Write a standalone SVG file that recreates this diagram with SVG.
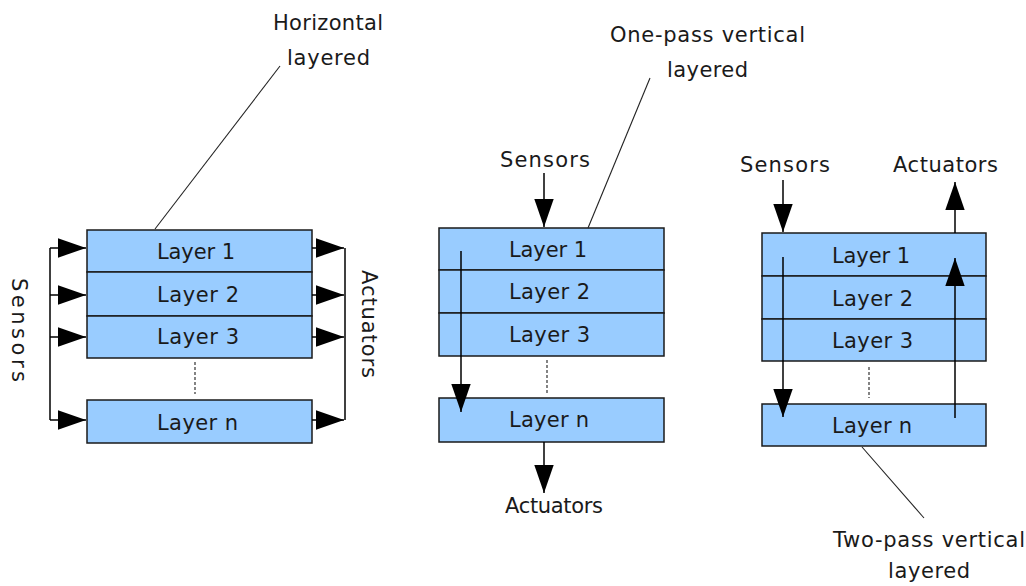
<svg xmlns="http://www.w3.org/2000/svg" width="1026" height="586" viewBox="0 0 1026 586">
<style>
text{font-family:"DejaVu Sans","Liberation Sans",Arial,sans-serif;font-size:21px;fill:#1a1a1a}
.box{fill:#99ccff;stroke:#1a1a1a;stroke-width:1.5}
.ln{stroke:#000;stroke-width:1.5;fill:none}
.dash{stroke:#333;stroke-width:1.2;stroke-dasharray:3,2;fill:none}
.lead{stroke:#222;stroke-width:1.1;fill:none}
</style>
<defs>
<marker id="ah" markerUnits="userSpaceOnUse" markerWidth="28" markerHeight="20" viewBox="0 0 26 18" refX="26" refY="9" orient="auto">
<path d="M0,0 L26,9 L0,18 z" fill="#000"/>
</marker>
</defs>
<rect width="1026" height="586" fill="#fff"/>

<g id="horizontal">
<g id="h-layer1"><rect class="box" x="87" y="230" width="225" height="42"/><text x="157" y="259" textLength="78">Layer 1</text></g>
<g id="h-layer2"><rect class="box" x="87" y="272" width="225" height="44"/><text x="157" y="302" textLength="82">Layer 2</text></g>
<g id="h-layer3"><rect class="box" x="87" y="316" width="225" height="42"/><text x="157" y="344" textLength="82">Layer 3</text></g>
<g id="h-layern"><rect class="box" x="87" y="400" width="225" height="43"/><text x="157" y="430" textLength="81">Layer n</text></g>
<g id="h-labels">
<text x="273" y="30" textLength="110">Horizontal</text>
<text x="287" y="65" textLength="83">layered</text>
<text transform="translate(12,278) rotate(90)" textLength="104">Sensors</text>
<text transform="translate(362,270) rotate(90)" textLength="108">Actuators</text>
</g>
</g>

<g id="onepass">
<g id="o-layer1"><rect class="box" x="439" y="228" width="225" height="42"/><text x="509" y="257" textLength="78">Layer 1</text></g>
<g id="o-layer2"><rect class="box" x="439" y="270" width="225" height="43"/><text x="509" y="299" textLength="81">Layer 2</text></g>
<g id="o-layer3"><rect class="box" x="439" y="313" width="225" height="43"/><text x="509" y="342" textLength="81">Layer 3</text></g>
<g id="o-layern"><rect class="box" x="439" y="398" width="225" height="44"/><text x="509" y="427" textLength="80">Layer n</text></g>
<g id="o-labels">
<text x="610" y="42" textLength="195">One-pass vertical</text>
<text x="667" y="77" textLength="81">layered</text>
<text x="500" y="167" textLength="90">Sensors</text>
<text x="505" y="513" textLength="98">Actuators</text>
</g>
</g>

<g id="twopass">
<g id="t-layer1"><rect class="box" x="762" y="233" width="224" height="43"/><text x="832" y="263" textLength="78">Layer 1</text></g>
<g id="t-layer2"><rect class="box" x="762" y="276" width="224" height="43"/><text x="832" y="306" textLength="81">Layer 2</text></g>
<g id="t-layer3"><rect class="box" x="762" y="319" width="224" height="42"/><text x="832" y="348" textLength="81">Layer 3</text></g>
<g id="t-layern"><rect class="box" x="762" y="404" width="224" height="42"/><text x="832" y="433" textLength="80">Layer n</text></g>
<g id="t-labels">
<text x="740" y="172" textLength="90">Sensors</text>
<text x="893" y="172" textLength="105">Actuators</text>
<text x="833" y="547" textLength="192">Two-pass vertical</text>
<text x="888" y="578" textLength="82">layered</text>
</g>
</g>

<g id="connectors">
<path class="ln" d="M50,248 V420"/>
<path class="ln" d="M50,248 H86" marker-end="url(#ah)"/>
<path class="ln" d="M50,295 H86" marker-end="url(#ah)"/>
<path class="ln" d="M50,337 H86" marker-end="url(#ah)"/>
<path class="ln" d="M50,420 H86" marker-end="url(#ah)"/>
<path class="ln" d="M345,248 V420"/>
<path class="ln" d="M312,248 H344" marker-end="url(#ah)"/>
<path class="ln" d="M312,295 H344" marker-end="url(#ah)"/>
<path class="ln" d="M312,337 H344" marker-end="url(#ah)"/>
<path class="ln" d="M312,420 H344" marker-end="url(#ah)"/>
<path class="dash" d="M195,362 V394"/>
<path class="lead" d="M280,66 L155,229"/>
<path class="ln" d="M544,173 V227" marker-end="url(#ah)"/>
<path class="ln" d="M461,251 V412" marker-end="url(#ah)"/>
<path class="ln" d="M544,442 V493" marker-end="url(#ah)"/>
<path class="dash" d="M547,360 V395"/>
<path class="lead" d="M650,78 L588,228"/>
<path class="ln" d="M783,180 V232" marker-end="url(#ah)"/>
<path class="ln" d="M783,257 V417" marker-end="url(#ah)"/>
<path class="ln" d="M955,418 V258" marker-end="url(#ah)"/>
<path class="ln" d="M955,233 V182" marker-end="url(#ah)"/>
<path class="dash" d="M869,367 V398"/>
<path class="lead" d="M862,447 L924,518"/>
</g>
</svg>
